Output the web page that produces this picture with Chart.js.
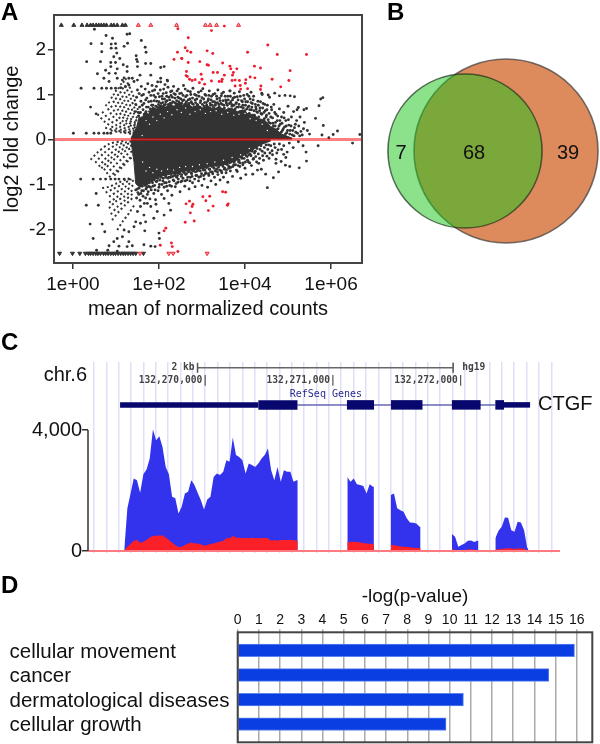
<!DOCTYPE html>
<html><head><meta charset="utf-8">
<script src="https://cdn.jsdelivr.net/npm/chart.js@4/dist/chart.umd.min.js"></script>
<style>
html,body{margin:0;padding:0;background:#fff}
#page{position:relative;width:600px;height:744px;overflow:hidden;font-family:"Liberation Sans",Arial,sans-serif}
canvas{position:absolute;filter:blur(0.4px)}
.tag{position:absolute;font:bold 24px/1 "Liberation Sans",Arial,sans-serif;color:#000}
</style></head><body>
<div id="page">
<canvas id="chartA" width="372" height="321" style="left:0px;top:0px"></canvas>
<canvas id="chartB" width="230" height="200" style="left:370px;top:50px"></canvas>
<canvas id="chartC" width="600" height="225" style="left:0px;top:340px"></canvas>
<canvas id="chartD" width="600" height="159" style="left:0px;top:585px"></canvas>
<div class="tag" style="left:1px;top:0px">A</div>
<div class="tag" style="left:387px;top:0px">B</div>
<div class="tag" style="left:1px;top:330px">C</div>
<div class="tag" style="left:1px;top:573px">D</div>
</div>
<script>
// ---------- Panel A: MA plot (x = log10 mean of normalized counts, y = log2 fold change)
const maTickValuesX=[0,2,4,6];
const maTickLabelsX=["1e+00","1e+02","1e+04","1e+06"];
const maTickValuesY=[-2,-1,0,1,2];
const redUp=[[1.52,2.54],[1.81,2.54],[2.41,2.54],[3.08,2.54],[3.19,2.54],[3.34,2.54],[3.85,2.54]];
const redDown=[[1.56,-2.53],[2.23,-2.53],[2.33,-2.53],[3.12,-2.53]];
const blackUp=[[-0.27,2.54],[0.02,2.54],[0.21,2.54],[0.33,2.54],[0.41,2.54],[0.47,2.54],[0.54,2.54],[0.6,2.54],[0.66,2.54],[0.72,2.54],[0.78,2.54],[0.89,2.54],[0.95,2.54],[1.03,2.54],[1.15,2.54],[1.22,2.54]];
const blackDown=[[-0.31,-2.53],[-0.01,-2.53],[0.16,-2.53],[0.29,-2.53],[0.36,-2.53],[0.41,-2.53],[0.47,-2.53],[0.53,-2.53],[0.58,-2.53],[0.64,-2.53],[0.71,-2.53],[0.76,-2.53],[0.82,-2.53],[0.88,-2.53],[0.94,-2.53],[0.99,-2.53],[1.05,-2.53],[1.11,-2.53],[1.17,-2.53],[1.22,-2.53],[1.28,-2.53],[1.34,-2.53],[1.4,-2.53],[1.46,-2.53],[1.64,-2.53]];
const redPoints=[[3.22,2.42],[3.52,2.52],[2.68,2.26],[2.61,2.04],[2.66,1.97],[2.74,1.94],[3.12,1.97],[3.25,1.91],[4.06,1.94],[4.53,2.1],[4.75,1.89],[5.43,1.89],[2.53,1.8],[2.95,1.73],[2.68,1.71],[3.12,1.66],[3.15,1.65],[3.48,1.7],[3.65,1.63],[3.67,1.57],[3.81,1.57],[4.22,1.63],[4.36,1.59],[5.05,1.53],[2.64,1.51],[2.63,1.42],[2.66,1.4],[2.98,1.45],[3.26,1.49],[3.36,1.49],[3.52,1.43],[3.73,1.49],[3.71,1.43],[2.71,1.34],[2.77,1.31],[2.84,1.33],[3,1.34],[2.94,1.26],[3.06,1.23],[3.22,1.3],[3.4,1.29],[3.46,1.29],[3.47,1.34],[3.7,1.31],[3.77,1.32],[3.87,1.31],[4.02,1.33],[4.01,1.25],[4.12,1.39],[4.23,1.37],[4.63,1.34],[5.02,1.31],[3.77,1.19],[3.89,1.2],[3.9,1.12],[4.06,1.13],[4.37,1.19],[4.36,1.11],[4.83,1.17],[2.43,1.94],[2.35,1.78],[2.53,1.8],[2.44,2.46],
[3.48,-1.16],[3.55,-1.17],[3.18,-1.26],[3.02,-1.27],[3.09,-1.36],[2.71,-1.37],[2.63,-1.43],[2.79,-1.44],[2.77,-1.49],[3.26,-1.48],[3.61,-1.43],[3.59,-1.46],[3.15,-1.58],[2.73,-1.63],[2.61,-1.84],[2.82,-1.81],[2.16,-1.97],[2.12,-2.03],[2.03,-2.35],[2.29,-2.3],[2.31,-2.38],[2.44,-2.49]];
const sparseLeft=[[0.5,2.45],[0.77,2.31],[0.92,2.25],[0.42,2.13],[0.67,2.13],[0.89,2.12],[0.99,2.13],[1.26,2.34],[1.32,2.35],[1.59,2.2],[1.68,2.05],[1.27,2.14],[1.19,2.07],[0.89,2.03],[1,2.03],[0.67,1.95],[1.7,1.94],[1.02,1.92],[0.95,1.84],[1.09,1.8],[1.47,1.86],[1.48,1.78],[1.5,1.73],[0.32,1.73],[0.64,1.73],[0.88,1.71],[0.99,1.71],[1.69,1.69],[1.81,1.69],[1.17,1.66],[1.26,1.62],[1.5,1.62],[0.76,1.54],[0.88,1.62],[1.03,1.57],[2.04,1.6],[2.12,1.62],[0.57,1.46],[0.84,1.47],[0.99,1.47],[1.26,1.51],[0.72,1.36],[1.03,1.36],[1.19,1.37],[1.56,1.43],[1.81,1.43],[0.84,1.29],[1.15,1.32],[1.3,1.36],[1.38,1.36],[2.04,1.36],[2.19,1.32],[0.19,1.14],[0.49,1.14],[0.67,1.14],[0.78,1.14],[0.89,1.14],[0.99,1.14],[1.11,1.15],[1.22,1.17],[1.3,1.21],[1.42,1.29],[1.5,1.32],[0.41,0.72],[0.54,0.57],[0.01,0.14],[0.31,0.14],[0.49,0.14],[0.6,0.14],[0.72,0.14],[0.8,0.14],[0.88,0.14],
[0.18,-0.88],[0.47,-0.88],[0.64,-0.88],[0.76,-0.88],[0.88,-0.88],[0.98,-0.88],[1.07,-0.88],[1.19,-0.88],[1.3,-0.88],[0.54,-1.2],[0.31,-1.46],[0.59,-1.46],[0.4,-1.88],[0.68,-1.88],[0.47,-2.2],[0.74,-2.05],[0.55,-2.46],[0.81,-2.46],[1.03,-2.48],[0.84,-2.36],[1.07,-2.37],[1.26,-2.38],[1.38,-2.36],[1.3,-2.27],[1.65,-2.34],[1.81,-2.37],[1.91,-2.38],[2.01,-2.2],[1.03,-2.2],[1.15,-2.16],[0.95,-2.27],[1.46,-1.83],[1.57,-1.86],[1.69,-1.83],[1.42,-1.94],[1.3,-2.05],[1.19,-2.01],[1.67,-2.03],[2,-2.08],[1.65,-1.68],[1.88,-1.75],[1.96,-1.6],[2.12,-1.68],[2.27,-1.57],[2.23,-1.42],[2.12,-1.31],[1.92,-1.34],[1.81,-1.49],[1.73,-1.42],[1.57,-1.49],[1.5,-1.6]];
const fringeTop=[[1.52,0.6],[1.55,0.72],[1.58,0.85],[1.6,0.98],[1.63,0.66],[1.65,0.8],[1.68,1.12],[1.7,0.62],[1.72,0.92],[1.75,0.72],[1.77,1.05],[1.8,0.68],[1.82,0.85],[1.84,1.2],[1.86,0.76],[1.88,0.98],[1.9,1.1],[1.93,0.74],[1.95,0.85],[1.97,1.28],[1.99,0.78],[2.01,0.95],[2.03,1.1],[2.05,0.8],[2.08,0.9],[2.1,1.02],[2.12,0.76],[2.14,1.22],[2.16,0.84],[2.18,0.96],[2.2,1.3],[2.22,0.78],[2.25,0.88],[2.27,1.06],[2.29,0.8],[2.31,0.94],[2.34,1.18],[2.36,0.82],[2.38,1.0],[2.41,0.86],[2.43,0.78],[2.45,1.12],[2.47,0.92],[2.5,0.8],[2.52,1.03],[2.55,0.86],[2.57,1.2],[2.6,0.78],[2.62,0.95],[2.64,0.84],[2.67,1.08],[2.69,0.76],[2.72,0.9],[2.74,1.0],[2.77,0.8],[2.79,1.14],[2.82,0.72],[2.84,0.88],[2.87,0.98],[2.89,0.78],[2.92,1.05],[2.95,0.72],[2.97,0.86],[3.0,0.93],[3.02,1.13],[3.05,0.74],[3.07,1.0],[3.1,0.82],[3.12,0.72],[3.15,0.9],[3.17,1.08],[3.2,0.76],[3.22,0.96],[3.25,0.84],[3.27,0.71],[3.3,1.02],[3.32,0.8],[3.35,0.9],[3.37,1.1],[3.4,0.73],[3.42,0.86],[3.45,0.97],[3.47,0.78],[3.5,1.05],[3.52,0.7],[3.55,0.88],[3.57,0.8],[3.6,0.96],[3.62,0.68],[3.65,1.08],[3.67,0.84],[3.7,0.74],[3.72,0.92],[3.75,1.03],[3.77,0.68],[3.8,0.82],[3.82,0.95],[3.85,0.72],[3.87,1.06],[3.9,0.62],[3.92,0.86],[3.95,0.76],[3.97,0.98],[4.0,0.64],[4.02,0.84],[4.05,1.0],[4.07,0.72],[4.1,0.58],[4.12,0.9],[4.15,0.66],[4.17,0.8],[4.2,0.96],[4.22,0.54],[4.25,0.72],[4.27,0.62],[4.3,0.85],[4.32,0.5],[4.35,0.7],[4.37,0.58],[4.4,1.0],[4.42,0.8],[4.45,0.46],[4.47,0.64],[4.5,0.54],[4.52,0.76],[4.55,0.38],[4.57,0.94],[4.6,0.5],[4.62,0.66],[4.65,0.36],[4.67,0.78],[4.7,0.3],[4.72,0.56],[4.75,0.42],[4.77,0.24],[4.8,0.68],[4.82,0.34],[4.85,0.5],[4.87,0.2],[4.9,0.6],[4.92,0.28],[4.95,0.42],[4.97,0.15],[5.0,0.74],[5.02,0.32],[5.05,0.2],[5.08,0.5],[5.1,0.1],[5.13,0.62],[5.15,0.26],[5.18,0.16],[5.2,0.42],[5.25,0.3],[5.3,0.18],[5.33,0.1],[5.28,0.5],[5.38,0.38],[5.36,0.24],[5.45,0.2],[5.5,0.12],[5.43,0.69],[5.37,0.66],[5.24,0.71],[5.21,0.66],[5.15,0.95],[5.05,0.97],[4.93,0.98],[4.8,0.97],[4.69,1.03],[4.54,0.99],[4.39,1.03],[4.09,0.96],[4.14,1.05],[3.65,1.08],[5.81,0.93],[5.76,0.9],[5.72,0.75],[5.64,0.47],[5.82,0.31],[6.15,0.19],[6.05,0.11],[5.79,0.1],[5.95,0.04],[6.67,0.11]];
const fringeTopDense=[[1.44,0.62],[1.46,0.78],[1.48,0.94],[1.5,1.1],[1.53,0.52],[1.54,1.02],[1.57,0.6],[1.59,1.18],[1.61,0.76],[1.64,1.0],[1.66,0.56],[1.69,0.88],[1.71,0.72],[1.74,1.24],[1.76,0.84],[1.78,0.62],[1.81,0.98],[1.83,0.76],[1.85,1.08],[1.87,0.66],[1.89,0.86],[1.92,0.94],[1.94,1.18],[1.96,0.72],[1.98,1.02],[2.0,0.84],[2.02,0.74],[2.04,1.28],[2.07,0.96],[2.09,0.82],[2.11,1.12],[2.13,0.9],[2.15,0.78],[2.17,1.04],[2.19,0.86],[2.21,1.16],[2.23,0.94],[2.26,0.8],[2.28,0.98],[2.3,1.08],[2.32,0.84],[2.35,1.02],[2.37,0.92],[2.39,0.8],[2.42,1.08],[2.44,0.94],[2.46,0.84],[2.48,1.02],[2.51,0.9],[2.53,0.8],[2.56,0.98],[2.58,0.88],[2.61,1.12],[2.63,0.82],[2.65,0.98],[2.68,0.88],[2.7,0.8],[2.73,1.06],[2.75,0.84],[2.78,0.92],[2.8,0.78],[2.83,1.0],[2.85,0.82],[2.88,0.9],[2.9,0.76],[2.93,0.96],[2.96,0.82],[2.98,1.08],[3.01,0.78],[3.04,0.9],[3.06,0.82],[3.09,0.98],[3.11,0.76],[3.14,0.86],[3.16,0.98],[3.19,0.8],[3.21,0.88],[3.24,0.76],[3.26,1.0],[3.29,0.84],[3.31,0.76],[3.34,0.96],[3.36,0.82],[3.39,0.78],[3.41,0.92],[3.44,0.8],[3.46,1.02],[3.49,0.86],[3.51,0.76],[3.54,0.96],[3.56,0.84],[3.59,0.76],[3.61,0.88],[3.64,0.8],[3.66,0.96],[3.69,0.78],[3.71,0.88],[3.74,0.76],[3.76,0.94],[3.79,0.8],[3.81,0.72],[3.84,0.88],[3.86,0.78],[3.89,0.96],[3.91,0.72],[3.94,0.84],[3.96,0.7],[3.99,0.9],[4.01,0.76],[4.04,0.68],[4.06,0.84],[4.09,0.74],[4.11,0.66],[4.14,0.82],[4.16,0.72],[4.19,0.88],[4.21,0.64],[4.24,0.78],[4.26,0.68],[4.29,0.6],[4.31,0.76],[4.34,0.64],[4.36,0.84],[4.39,0.56],[4.41,0.7],[4.44,0.6],[4.46,0.78],[4.49,0.5],[4.51,0.66],[4.54,0.44],[4.56,0.58],[4.59,0.36],[4.61,0.72],[4.64,0.48],[4.66,0.3],[4.69,0.6],[4.71,0.38],[4.74,0.22],[4.76,0.52],[4.79,0.3],[4.81,0.42],[4.84,0.16],[4.86,0.36],[4.89,0.24],[4.91,0.48],[4.94,0.12],[4.96,0.3],[4.99,0.2],[5.01,0.44],[5.04,0.12],[5.07,0.3],[5.11,0.2],[5.14,0.08],[5.17,0.34],[5.22,0.14],[5.27,0.08]];
const fringeBottom=[[1.5,-1.1],[1.53,-1.22],[1.56,-1.35],[1.6,-1.14],[1.63,-1.26],[1.66,-1.42],[1.7,-1.1],[1.73,-1.22],[1.76,-1.04],[1.79,-1.32],[1.82,-1.12],[1.85,-0.96],[1.88,-1.2],[1.9,-1.02],[1.93,-1.44],[1.96,-0.92],[1.98,-1.14],[2.01,-1.0],[2.04,-0.84],[2.06,-1.22],[2.09,-0.92],[2.12,-1.06],[2.15,-0.8],[2.17,-0.96],[2.2,-1.14],[2.23,-0.84],[2.25,-1.02],[2.28,-0.78],[2.3,-1.24],[2.33,-0.9],[2.36,-0.76],[2.38,-1.05],[2.41,-0.84],[2.44,-0.95],[2.46,-0.74],[2.49,-1.16],[2.52,-0.82],[2.54,-0.92],[2.57,-0.72],[2.6,-1.04],[2.62,-0.78],[2.65,-0.9],[2.68,-0.7],[2.7,-1.1],[2.73,-0.84],[2.76,-0.76],[2.78,-0.96],[2.81,-0.68],[2.84,-1.05],[2.86,-0.8],[2.89,-0.7],[2.92,-0.92],[2.95,-0.64],[2.97,-0.82],[3.0,-1.02],[3.03,-0.68],[3.05,-0.88],[3.08,-0.76],[3.1,-0.62],[3.13,-1.06],[3.16,-0.8],[3.18,-0.66],[3.21,-0.92],[3.24,-0.72],[3.26,-0.6],[3.29,-0.84],[3.32,-1.0],[3.34,-0.66],[3.37,-0.78],[3.4,-0.58],[3.42,-0.9],[3.45,-0.7],[3.48,-0.56],[3.5,-0.84],[3.53,-0.64],[3.56,-0.74],[3.58,-0.52],[3.6,-0.95],[3.63,-0.6],[3.66,-0.7],[3.68,-0.5],[3.71,-0.82],[3.74,-0.56],[3.77,-0.46],[3.8,-0.68],[3.82,-0.71],[3.85,-0.5],[3.88,-0.6],[3.9,-0.86],[3.93,-0.42],[3.96,-0.52],[4.0,-0.64],[4.02,-0.78],[4.05,-0.38],[4.08,-0.5],[4.12,-0.32],[4.15,-0.58],[4.18,-0.77],[4.2,-0.42],[4.24,-0.26],[4.27,-0.5],[4.29,-0.68],[4.32,-0.53],[4.35,-0.22],[4.38,-0.66],[4.41,-0.36],[4.45,-0.18],[4.48,-0.77],[4.51,-0.37],[4.52,-1.07],[4.55,-0.12],[4.58,-0.3],[4.63,-0.25],[4.66,-0.85],[4.68,-0.1],[4.72,-0.53],[4.72,-0.44],[4.77,-0.23],[4.78,-0.72],[4.84,-0.49],[4.9,-0.14],[4.9,-0.33],[4.94,-0.57],[4.95,-0.4],[4.98,-0.28],[5.03,-0.08],[5.04,-0.6],[5.12,-0.18],[5.24,-0.05],[5.26,-0.63],[5.35,-0.14],[5.42,-0.28],[5.43,-0.48],[5.7,-0.14],[6.5,-0.08]];
const fringeBottomDense=[[1.46,-1.12],[1.48,-1.3],[1.51,-1.18],[1.54,-1.08],[1.58,-1.2],[1.61,-1.04],[1.64,-1.14],[1.67,-1.02],[1.69,-1.3],[1.72,-1.06],[1.75,-1.16],[1.78,-0.96],[1.8,-1.06],[1.83,-0.92],[1.86,-1.04],[1.89,-0.9],[1.91,-1.12],[1.94,-0.94],[1.97,-0.86],[2.0,-1.06],[2.02,-0.9],[2.05,-0.82],[2.07,-1.0],[2.1,-0.86],[2.13,-0.96],[2.16,-0.84],[2.18,-1.04],[2.21,-0.86],[2.24,-0.94],[2.27,-0.84],[2.29,-1.04],[2.32,-0.82],[2.35,-0.92],[2.37,-0.8],[2.4,-0.98],[2.43,-0.8],[2.45,-0.88],[2.48,-0.76],[2.51,-0.94],[2.53,-0.78],[2.56,-0.86],[2.59,-0.74],[2.61,-0.92],[2.64,-0.76],[2.67,-0.84],[2.69,-0.72],[2.72,-0.92],[2.75,-0.74],[2.77,-0.82],[2.8,-0.7],[2.83,-0.88],[2.85,-0.72],[2.88,-0.8],[2.91,-0.68],[2.93,-0.84],[2.96,-0.7],[2.99,-0.76],[3.02,-0.64],[3.04,-0.8],[3.07,-0.68],[3.09,-0.74],[3.12,-0.62],[3.15,-0.76],[3.17,-0.66],[3.2,-0.72],[3.23,-0.6],[3.25,-0.76],[3.28,-0.64],[3.31,-0.7],[3.33,-0.58],[3.36,-0.72],[3.38,-0.62],[3.41,-0.68],[3.44,-0.56],[3.46,-0.74],[3.49,-0.6],[3.52,-0.66],[3.54,-0.54],[3.57,-0.68],[3.59,-0.56],[3.62,-0.64],[3.64,-0.52],[3.67,-0.62],[3.7,-0.48],[3.72,-0.6],[3.75,-0.5],[3.78,-0.56],[3.81,-0.44],[3.84,-0.58],[3.86,-0.46],[3.89,-0.52],[3.92,-0.4],[3.95,-0.56],[3.98,-0.42],[4.01,-0.5],[4.03,-0.36],[4.06,-0.46],[4.09,-0.34],[4.11,-0.52],[4.14,-0.36],[4.17,-0.26],[4.19,-0.44],[4.22,-0.3],[4.25,-0.38],[4.28,-0.2],[4.31,-0.32],[4.34,-0.42],[4.37,-0.14],[4.4,-0.26],[4.43,-0.46],[4.46,-0.3],[4.49,-0.12],[4.53,-0.22],[4.56,-0.42],[4.6,-0.14],[4.64,-0.34],[4.7,-0.18],[4.74,-0.3],[4.8,-0.1],[4.85,-0.22]];
// bands of low-count points fanning out to the left of the cloud, read as polylines
const fanRays=[
[[0.57,0.56],[0.76,0.38],[0.99,0.25],[1.46,0.16]],
[[0.68,0.62],[0.85,0.44],[1.05,0.3],[1.46,0.19]],
[[0.76,0.78],[0.91,0.54],[1.11,0.36],[1.46,0.22]],
[[0.83,0.84],[0.97,0.62],[1.17,0.4],[1.48,0.25]],
[[0.89,0.95],[1.03,0.69],[1.22,0.43],[1.5,0.27]],
[[0.94,1.02],[1.09,0.75],[1.26,0.47],[1.52,0.29]],
[[0.99,1.1],[1.15,0.8],[1.3,0.51],[1.54,0.31]],
[[1.05,1.16],[1.2,0.86],[1.36,0.55],[1.57,0.33]],
[[1.11,1.25],[1.26,0.91],[1.42,0.58],[1.6,0.35]],
[[1.17,1.3],[1.32,0.97],[1.46,0.64],[1.62,0.37]],
[[1.22,1.36],[1.38,1.03],[1.5,0.69],[1.65,0.38]],
[[0.88,0.2],[1.1,0.16],[1.45,0.12]],
[[0.75,0.26],[1.0,0.2],[1.45,0.14]],
[[0.41,-0.45],[0.57,-0.29],[0.84,-0.1],[1.19,-0.03]],
[[0.52,-0.52],[0.7,-0.32],[0.98,-0.13],[1.35,-0.04]],
[[0.6,-0.6],[0.84,-0.34],[1.11,-0.16],[1.42,-0.05]],
[[0.66,-0.64],[0.9,-0.4],[1.15,-0.22],[1.45,-0.1]],
[[0.72,-0.68],[0.95,-0.45],[1.19,-0.27],[1.46,-0.14]],
[[0.78,-0.76],[0.99,-0.56],[1.22,-0.36],[1.48,-0.2]],
[[0.84,-0.84],[1.03,-0.68],[1.26,-0.46],[1.5,-0.27]],
[[0.96,-0.8],[1.14,-0.62],[1.32,-0.44],[1.5,-0.32]],
[[0.68,-1.08],[0.84,-1.05],[1.03,-0.97],[1.3,-0.86]],
[[0.76,-1.18],[0.93,-1.1],[1.12,-1.01],[1.36,-0.88]],
[[0.84,-1.27],[1.03,-1.16],[1.22,-1.05],[1.42,-0.9]],
[[0.84,-1.4],[1.02,-1.28],[1.2,-1.16],[1.42,-1.0]],
[[0.84,-1.53],[0.99,-1.38],[1.19,-1.27],[1.42,-1.1]],
[[0.88,-1.66],[1.03,-1.5],[1.2,-1.36],[1.42,-1.18]],
[[0.91,-1.79],[1.07,-1.6],[1.22,-1.45],[1.42,-1.27]],
[[1.03,-2.01],[1.15,-1.83],[1.3,-1.64],[1.45,-1.42]]
];
const cloudUpper=[[1.35,0.03],[1.48,0.27],[1.54,0.5],[1.6,0.46],[1.68,0.62],[1.76,0.56],[1.85,0.72],[1.95,0.68],[2.05,0.76],[2.15,0.72],[2.25,0.78],[2.35,0.74],[2.45,0.82],[2.55,0.76],[2.65,0.8],[2.78,0.72],[2.9,0.76],[3.02,0.7],[3.14,0.74],[3.26,0.68],[3.4,0.72],[3.55,0.66],[3.68,0.7],[3.82,0.62],[3.95,0.66],[4.08,0.56],[4.2,0.56],[4.32,0.46],[4.45,0.44],[4.58,0.3],[4.7,0.24],[4.85,0.12],[5.1,0.03]];
const cloudLower=[[1.35,-0.03],[1.42,-0.5],[1.46,-0.98],[1.55,-1.06],[1.63,-1.0],[1.72,-1.02],[1.8,-0.92],[1.92,-0.88],[2.04,-0.8],[2.16,-0.8],[2.27,-0.76],[2.42,-0.76],[2.58,-0.7],[2.72,-0.7],[2.88,-0.66],[3.05,-0.64],[3.26,-0.58],[3.45,-0.56],[3.65,-0.5],[3.85,-0.42],[4.04,-0.32],[4.2,-0.22],[4.35,-0.12],[4.6,-0.03]];
const cloudGaps=[[1.61,0.09],[1.7,0.42],[1.78,0.34],[1.86,0.5],[1.95,0.42],[2.03,0.56],[2.12,0.48],[2.2,0.62],[2.3,0.55],[2.42,0.66],[2.52,0.6],[2.62,0.7],[2.72,0.56],[2.84,0.62],[2.96,0.66],[3.08,0.58],[3.2,0.62],[3.33,0.64],[3.46,0.56],[3.6,0.6],[3.74,0.54],[3.86,0.56],[4.0,0.58],[4.12,0.46],[4.26,0.42],[4.4,0.34],[4.52,0.2],[1.62,-0.5],[1.7,-0.7],[1.78,-0.62],[1.86,-0.74],[1.95,-0.66],[2.06,-0.7],[2.2,-0.66],[2.34,-0.68],[2.48,-0.62],[2.62,-0.6],[2.78,-0.6],[2.94,-0.56],[3.12,-0.54],[3.3,-0.5],[3.5,-0.46],[3.7,-0.4],[3.9,-0.34],[4.1,-0.2]];
// ---------- Panel B: Venn set sizes
const vennSetA=75, vennSetB=107;
const vennLabels=["7","68","39"];
// ---------- Panel C: read-coverage track (bp from 132,270,000; 25 bp bins per exon)
const binBp=25;
const exonStarts=[-656,1090,1430,1908,2248];
const totalReads=[
[0,1410,1900,2400,2340,1925,2540,2695,3060,4015,3660,3795,3440,2780,2540,1790,1740,1240,1460,1900,1960,2340,2180,1925,1680,1375,1705,1790,2450,2560,2510,2620,3000,2950,3750,3170,3110,3000,2560,2890,2840,2780,2890,3060,3170,3390,2670,2340,2780,2290,2670,2620,2620,2290,2340],
[2450,2290,2400,2210,2180,2145,1900,2210,2120],
[1850,1900,1410,1350,1300,1080,945,935,910,800],
[560,470,140,200,250,340,350,300,340],
[420,670,800,1110,1100,690,640,970,945,690,90]];
const subsetReads=[
[20,140,230,340,360,275,310,360,450,495,505,515,515,450,360,275,200,120,140,200,250,285,250,250,220,175,200,230,250,285,310,340,420,420,495,450,440,420,440,420,440,420,430,420,430,420,340,360,340,360,360,360,360,360,340],
[290,300,310,295,285,265,250,240,230],
[200,190,170,150,140,130,120,110,100,100],
[70,40,20,20,30,50,60,40,30],
[40,55,70,85,90,80,70,80,85,75,20]];
const coverageTicks=[0,4000];
const coverageTickLabels=["0","4,000"];
const genomeGrid=[-892,-795,-699,-602,-505,-409,-312,-215,-118,-22,75,172,268,365,462,559,655,752,849,945,1042,1139,1235,1332,1429,1526,1622,1719,1816,1912,2009,2106,2203,2299,2396,2493,2589,2686];
const codingExons=[[394,700],[1087,1299],[1432,1678],[1908,2133],[2248,2316]];
const utrs=[[-688,394],[2316,2520]];
const intronSpan=[700,2248];
const genomeLabels=[[0,"132,270,000|"],[1000,"132,271,000|"],[2000,"132,272,000|"]];
const scaleBarSpan=[-82,1918];
// ---------- Panel D: enrichment bars
const functionNames=["cellular movement","cancer","dermatological diseases","cellular growth"];
const minusLogP=[15.89,14.68,10.65,9.83];
const pTicks=[0,1,2,3,4,5,6,7,8,9,10,11,12,13,14,15,16];

// ---------- helpers
const FONT='"Liberation Sans",Arial,sans-serif';
Chart.defaults.font.family=FONT;
Chart.defaults.color='#111';
Chart.defaults.animation=false;
Chart.defaults.responsive=false;
Chart.defaults.devicePixelRatio=1;
Chart.defaults.plugins.legend.display=false;
Chart.defaults.plugins.tooltip.enabled=false;
const pts=a=>a.map(([x,y])=>({x,y}));
const box=c=>({id:'box',afterDraw(ch){const a=ch.chartArea,g=ch.ctx;g.save();g.strokeStyle=c;g.lineWidth=2;g.strokeRect(a.left,a.top,a.right-a.left,a.bottom-a.top);g.restore();}});
const setTicks=list=>s=>{s.ticks=list.map(v=>({value:v}));};

// ---------- Panel A
const dots=(a,color,r)=>({data:pts(a),pointRadius:r||1.45,pointBorderWidth:0,pointBackgroundColor:color,showLine:false});
const tri=(a,fill,stroke,rot)=>({data:pts(a),pointStyle:'triangle',pointRadius:2.3,pointRotation:rot,pointBackgroundColor:fill,pointBorderColor:stroke,pointBorderWidth:1,showLine:false});
new Chart(document.getElementById('chartA'),{type:'scatter',
 data:{datasets:[
  {data:[{x:-0.44,y:0},{x:6.72,y:0}],showLine:true,borderColor:'rgba(255,0,0,0.5)',borderWidth:3,pointRadius:0},
  dots(redPoints,'#ee1c2e'),
  tri(redUp,'#f6a0a0','#ee2a3a',0),tri(redDown,'#f6a0a0','#ee2a3a',180),
  tri(blackUp,'#333','#333',0),tri(blackDown,'#333','#333',180),
  dots(sparseLeft,'#333'),dots(fringeTop,'#333'),dots(fringeBottom,'#333'),dots(fringeTopDense,'#333'),dots(fringeBottomDense,'#333'),
  dots(cloudGaps,'#fff',0.7),
  ...fanRays.map(r=>({data:pts(r),showLine:true,borderColor:'#333',borderWidth:2,borderDash:[2,2.6],borderCapStyle:'butt',pointRadius:0,tension:0.3})),
  {data:pts(cloudUpper),showLine:true,fill:'origin',backgroundColor:'#333',borderColor:'#333',borderWidth:1,pointRadius:0},
  {data:pts(cloudLower),showLine:true,fill:'origin',backgroundColor:'#333',borderColor:'#333',borderWidth:1,pointRadius:0}
 ]},
 options:{layout:{autoPadding:false,padding:{right:10,top:15}},
  scales:{
   x:{type:'linear',min:-0.44,max:6.72,afterBuildTicks:setTicks(maTickValuesX),afterFit(s){s.height=58;},
    grid:{drawOnChartArea:false,tickLength:6,color:'#333',lineWidth:1.5},border:{display:false},
    ticks:{maxRotation:0,padding:4,color:'#111',font:{size:19},callback:v=>maTickLabelsX[maTickValuesX.indexOf(v)]},
    title:{display:true,text:'mean of normalized counts',color:'#111',font:{size:20},padding:0}},
   y:{min:-2.744,max:2.767,afterBuildTicks:setTicks(maTickValuesY),afterFit(s){s.width=54;},
    grid:{drawOnChartArea:false,tickLength:6,color:'#333',lineWidth:1.5},border:{display:false},
    ticks:{padding:2,color:'#111',font:{size:19},callback:v=>String(v)},
    title:{display:true,text:'log2 fold change',color:'#111',font:{size:20},padding:0}}
  }},
 plugins:[box('#444')]});

// ---------- Panel B
const vennScale=92/Math.sqrt(vennSetB);
new Chart(document.getElementById('chartB'),{type:'bubble',
 data:{datasets:[
  {data:[{x:95,y:101,r:vennScale*Math.sqrt(vennSetA)}],backgroundColor:'rgba(23,197,23,0.5)',borderColor:'rgba(30,50,30,0.7)',borderWidth:1.6,clip:false},
  {data:[{x:136,y:101,r:vennScale*Math.sqrt(vennSetB)}],backgroundColor:'#dd8a5c',borderColor:'rgba(70,70,70,0.75)',borderWidth:1.6,clip:false}
 ]},
 options:{layout:{autoPadding:false},scales:{x:{display:false,min:0,max:230},y:{display:false,min:0,max:200,reverse:true}}},
 plugins:[{id:'vennText',afterDraw(ch){const g=ch.ctx,sx=ch.scales.x,sy=ch.scales.y;g.save();g.font='20px '+FONT;g.fillStyle='#111';g.textAlign='center';g.textBaseline='middle';
   [31,104,198].forEach((x,i)=>g.fillText(vennLabels[i],sx.getPixelForValue(x),sy.getPixelForValue(103)));g.restore();}}]});

// ---------- Panel C
const trackSets=[];
const buildProfile=(vals,start)=>[{x:start,y:0},...vals.map((v,i)=>({x:start+i*binBp,y:v})),{x:start+(vals.length-1)*binBp+8,y:vals[vals.length-1]},{x:start+(vals.length-1)*binBp+8,y:0}];
exonStarts.forEach((st,i)=>{trackSets.push({data:buildProfile(subsetReads[i],st),showLine:true,fill:'origin',backgroundColor:'#fb2028',borderWidth:0,pointRadius:0});});
exonStarts.forEach((st,i)=>{trackSets.push({data:buildProfile(totalReads[i],st),showLine:true,fill:'origin',backgroundColor:'#3333ee',borderWidth:0,pointRadius:0});});
const GENE_Y=4830, BAR_Y=6060, LAB_Y=5640, REF_Y=5190;
const seg=(span,color,w,y)=>({data:[{x:span[0],y},{x:span[1],y}],showLine:true,borderColor:color,borderWidth:w,borderCapStyle:'butt',pointRadius:0,clip:false});
new Chart(document.getElementById('chartC'),{type:'scatter',
 data:{datasets:[
  seg([-939,2754],'#ff7a80',2,0),
  ...trackSets,
  ...codingExons.map(e=>seg(e,'#07076e',9.5,GENE_Y)),
  ...utrs.map(e=>seg(e,'#07076e',5.5,GENE_Y)),
  seg(intronSpan,'#6666b4',1.5,GENE_Y),
  seg(scaleBarSpan,'#666',1.5,BAR_Y)
 ]},
 options:{layout:{autoPadding:false,padding:{right:40,top:22,bottom:12}},
  scales:{
   x:{type:'linear',min:-939,max:2754,afterBuildTicks:setTicks(genomeGrid),
     ticks:{display:false},border:{display:false},grid:{color:'#dfdff8',lineWidth:1.5,drawTicks:false}},
   y:{min:-66,max:6248,afterBuildTicks:setTicks(coverageTicks),afterFit(s){s.width=88;},
     border:{display:false},grid:{drawOnChartArea:false,tickLength:6,color:'#333',lineWidth:1.5},
     ticks:{padding:0,color:'#111',font:{size:20},callback:v=>coverageTickLabels[coverageTicks.indexOf(v)]}}
  }},
 plugins:[{id:'track',afterDraw(ch){const g=ch.ctx,sx=ch.scales.x,sy=ch.scales.y;g.save();
   g.strokeStyle='#333';g.lineWidth=1.5;g.beginPath();g.moveTo(ch.chartArea.left,sy.getPixelForValue(4000));g.lineTo(ch.chartArea.left,sy.getPixelForValue(0));g.stroke();
   g.strokeStyle='#555';g.beginPath();scaleBarSpan.forEach(x=>{const p=sx.getPixelForValue(x),q=sy.getPixelForValue(BAR_Y);g.moveTo(p,q-5);g.lineTo(p,q+5);});g.stroke();
   g.textBaseline='middle';
   g.font='bold 9.6px "DejaVu Sans Mono",monospace';g.fillStyle='#444';g.textAlign='right';
   genomeLabels.forEach(([x,t])=>g.fillText(t,sx.getPixelForValue(x),sy.getPixelForValue(LAB_Y)));
   g.fillText('2 kb',sx.getPixelForValue(scaleBarSpan[0])-3,sy.getPixelForValue(BAR_Y));
   g.textAlign='left';g.fillText('hg19',sx.getPixelForValue(scaleBarSpan[1])+9,sy.getPixelForValue(BAR_Y));
   g.fillStyle='#2a2a90';g.font='10px "DejaVu Sans Mono",monospace';g.textAlign='right';g.fillText('RefSeq Genes',sx.getPixelForValue(1205),sy.getPixelForValue(REF_Y));
   g.fillStyle='#111';g.font='20px '+FONT;
   g.textAlign='right';g.fillText('chr.6',87,sy.getPixelForValue(5800));
   g.textAlign='left';g.fillText('CTGF',538,sy.getPixelForValue(GENE_Y));
   g.restore();}}]});

// ---------- Panel D
new Chart(document.getElementById('chartD'),{type:'bar',
 data:{datasets:[{data:minusLogP.map((v,i)=>({x:v,y:i})),backgroundColor:'#0a3de2',borderColor:'#5c82ee',borderWidth:1,barThickness:12.6}]},
 options:{indexAxis:'y',layout:{autoPadding:false,padding:{left:9.5,right:7.7,bottom:1.7}},
  scales:{
   x:{type:'linear',position:'top',min:0,max:16.73,afterBuildTicks:setTicks(pTicks),afterFit(s){s.height=47.3;s.paddingLeft=0;s.paddingRight=0;},
    grid:{color:'#aaa',lineWidth:1.5,tickLength:3},border:{display:false},
    ticks:{padding:1,color:'#111',maxRotation:0,autoSkip:false,font:{size:14},callback:v=>String(v)},
    title:{display:true,text:'-log(p-value)',color:'#111',font:{size:19},padding:0}},
   y:{type:'linear',offset:false,reverse:true,min:-0.735,max:3.735,afterBuildTicks:setTicks([0,1,2,3]),afterFit(s){s.width=228.2;s.paddingTop=0;s.paddingBottom=0;},
    grid:{display:false,offset:false},border:{display:false},
    ticks:{crossAlign:'far',autoSkip:false,labelOffset:1.5,color:'#111',font:{size:20.5},callback:v=>functionNames[v]}}
  }},
 plugins:[box('#444')]});
</script>
</body></html>
